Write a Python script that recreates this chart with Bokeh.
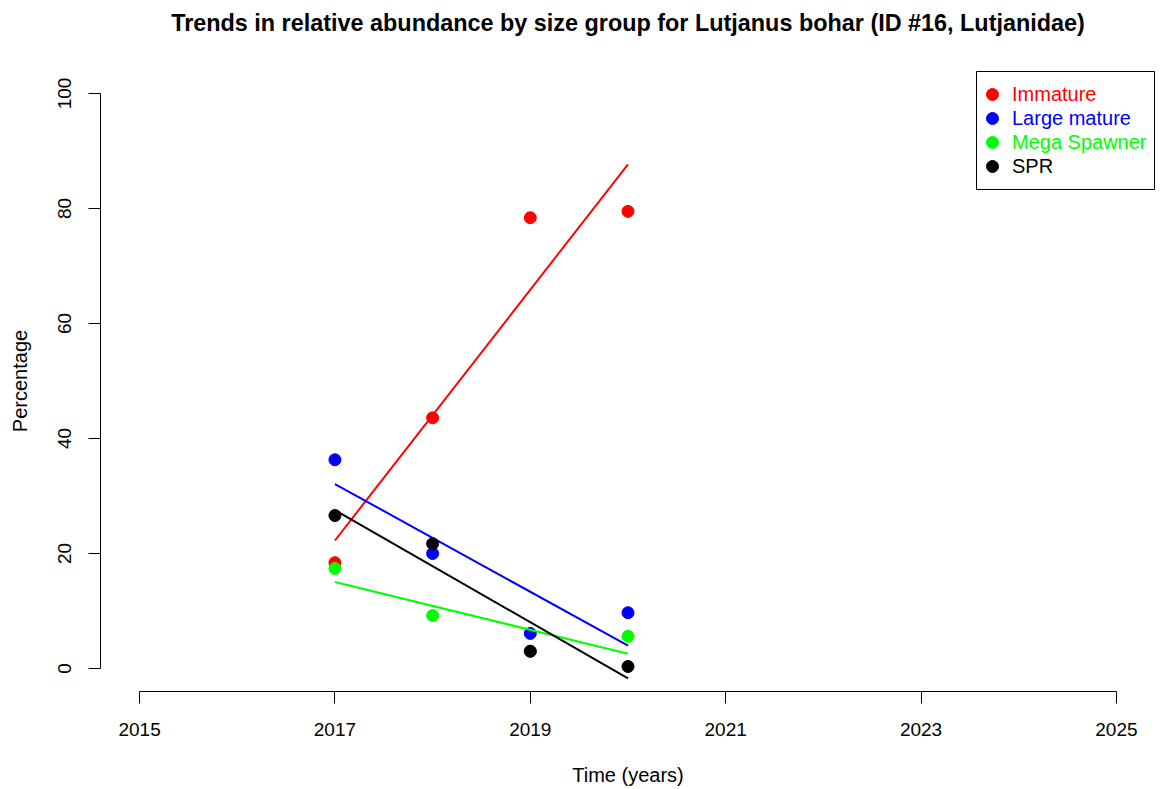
import numpy as np
from bokeh.plotting import figure
from bokeh.models import (Range1d, FixedTicker, Legend, LegendItem, BoxAnnotation, LinearAxis)
from bokeh.embed import file_html
from bokeh.resources import INLINE

# ---- data ----
years = [2017, 2018, 2019, 2020]
immature = [18.4, 43.6, 78.4, 79.5]
large_mature = [36.3, 20.0, 6.1, 9.7]
mega_spawner = [17.4, 9.2, 3.0, 5.6]
spr = [26.6, 21.7, 3.0, 0.35]

series_names = ["Immature", "Large mature", "Mega Spawner", "SPR"]
series_values = [immature, large_mature, mega_spawner, spr]
series_colors = ["#FF0000", "#0000FF", "#00FF00", "#000000"]

x_ticks = [2015, 2017, 2019, 2021, 2023, 2025]
y_ticks = [0, 20, 40, 60, 80, 100]

TITLE = "Trends in relative abundance by size group for Lutjanus bohar (ID #16, Lutjanidae)"
FONT = "Liberation Sans"

p = figure(frame_width=1055, frame_height=621,
           min_border_left=100, min_border_right=0, min_border_top=70, min_border_bottom=96,
           x_range=Range1d(2014.6, 2025.4), y_range=Range1d(-4, 104),
           output_backend="svg", toolbar_location=None)
p.outline_line_color = None
p.xgrid.visible = False
p.ygrid.visible = False
p.background_fill_color = "white"
p.border_fill_color = "white"

xax = p.below[0]
yax = p.left[0]
for ax, ticks in ((xax, x_ticks), (yax, y_ticks)):
    ax.ticker = FixedTicker(ticks=ticks)
    ax.bounds = (ticks[0], ticks[-1])
    ax.major_tick_out = 12
    ax.major_tick_in = 0
    ax.minor_tick_line_color = None
    ax.axis_line_color = "black"
    ax.axis_line_width = 1
    ax.major_tick_line_width = 1
    ax.major_label_text_font = FONT
    ax.major_label_text_font_size = "19px"
    ax.major_label_text_color = "black"
    ax.axis_label_text_font = FONT
    ax.axis_label_text_font_size = "20px"
    ax.axis_label_text_font_style = "normal"
    ax.axis_label_text_color = "black"

xax.axis_label = "Time (years)"
yax.axis_label = "Percentage"
xax.major_label_standoff = 19
xax.axis_label_standoff = 25
yax.major_label_standoff = 18
yax.major_label_orientation = "vertical"
yax.axis_label_standoff = 24

# title drawn as the label of a bare axis above the frame (centred on the frame)
title_axis = LinearAxis(ticker=FixedTicker(ticks=[]), axis_label=TITLE,
                        axis_line_color=None, major_tick_line_color=None,
                        minor_tick_line_color=None, major_tick_out=0, major_tick_in=0,
                        major_label_text_font_size="0px", major_label_standoff=0,
                        axis_label_standoff=35,
                        axis_label_text_font=FONT, axis_label_text_font_size="23.4px",
                        axis_label_text_font_style="bold", axis_label_text_color="black")
p.add_layout(title_axis, "above")

renderers = []
for name, vals, col in zip(series_names, series_values, series_colors):
    r = p.scatter(years, vals, size=12, color=col, line_color=col)
    x = np.array(years, dtype=float)
    slope, intercept = np.polyfit(x, np.array(vals), 1)
    xs = [x.min(), x.max()]
    p.line(xs, [intercept + slope * v for v in xs], line_color=col, line_width=2)
    renderers.append(r)

# legend box border
box = BoxAnnotation(left=876, right=1054, bottom=502, top=620,
                    left_units="screen", right_units="screen",
                    bottom_units="screen", top_units="screen",
                    fill_alpha=0, line_color="black", line_width=1, line_alpha=1)
p.add_layout(box)

row_centers = [597, 573, 549, 525]
for name, r, col, cy in zip(series_names, renderers, series_colors, row_centers):
    lg = Legend(items=[LegendItem(label=name, renderers=[r])],
                location=(877, cy - 15), padding=0, margin=0, spacing=0,
                glyph_width=30, glyph_height=30, label_height=30, label_standoff=5,
                border_line_color=None, background_fill_alpha=0,
                label_text_font=FONT, label_text_font_size="20px",
                label_text_color=col)
    p.add_layout(lg)

open("out.html", "w").write(file_html(p, INLINE))
